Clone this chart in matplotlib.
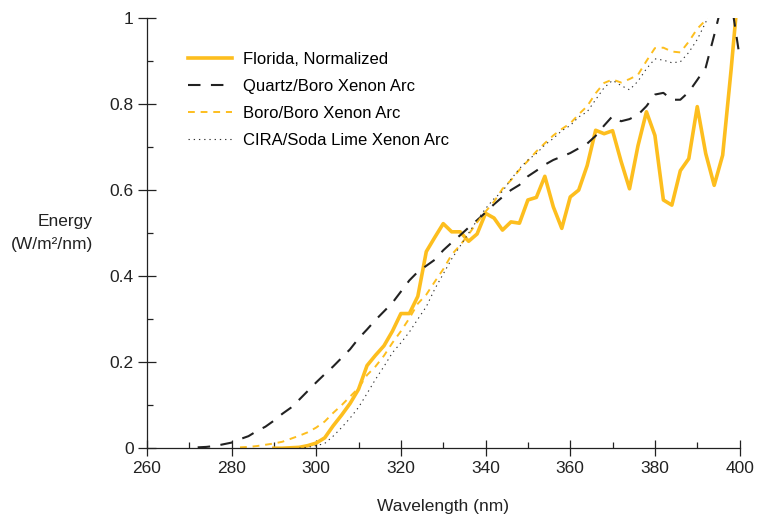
import matplotlib
matplotlib.use("Agg")
import matplotlib.pyplot as plt
from matplotlib.ticker import MultipleLocator, FuncFormatter

plt.rcParams["font.family"] = ["Liberation Sans", "DejaVu Sans"]

# Florida sunlight, normalized (2 nm steps)
florida_nm = list(range(290, 402, 2))
florida_val = [
    0.0, 0.0, 0.001, 0.002, 0.006, 0.012, 0.024, 0.052, 0.077, 0.104,
    0.137, 0.192, 0.216, 0.238, 0.272, 0.313, 0.313, 0.353, 0.457, 0.49,
    0.522, 0.503, 0.503, 0.481, 0.498, 0.546, 0.535, 0.507, 0.526, 0.523,
    0.577, 0.583, 0.632, 0.561, 0.511, 0.584, 0.600, 0.657, 0.739, 0.731,
    0.738, 0.667, 0.603, 0.703, 0.782, 0.727, 0.577, 0.565, 0.645, 0.673,
    0.794, 0.685, 0.611, 0.681, 0.88, 1.1,
]

quartz_nm = list(range(272, 402, 2))
quartz_val = [
    0.002, 0.003, 0.005, 0.009, 0.013, 0.021, 0.028, 0.04, 0.05, 0.064,
    0.08, 0.094, 0.113, 0.133, 0.153, 0.172, 0.19, 0.21, 0.23, 0.255,
    0.276, 0.298, 0.318, 0.338, 0.364, 0.39, 0.41, 0.424, 0.438, 0.46,
    0.478, 0.495, 0.513, 0.53, 0.548, 0.567, 0.584, 0.6, 0.612, 0.632,
    0.645, 0.659, 0.67, 0.678, 0.686, 0.697, 0.708, 0.726, 0.75, 0.772,
    0.76, 0.765, 0.775, 0.795, 0.822, 0.826, 0.81, 0.81, 0.828, 0.856,
    0.885, 0.96, 1.04, 1.04, 0.91,
]

boro_nm = list(range(282, 396, 2))
boro_val = [
    0.002, 0.003, 0.005, 0.008, 0.011, 0.015, 0.022, 0.029, 0.037, 0.048,
    0.062, 0.082, 0.1, 0.12, 0.14, 0.17, 0.19, 0.215, 0.245, 0.272,
    0.302, 0.336, 0.357, 0.387, 0.416, 0.45, 0.472, 0.497, 0.525, 0.55,
    0.573, 0.603, 0.623, 0.647, 0.668, 0.69, 0.709, 0.727, 0.742, 0.755,
    0.776, 0.795, 0.825, 0.849, 0.857, 0.85, 0.858, 0.868, 0.9, 0.93,
    0.931, 0.922, 0.92, 0.945, 0.975, 0.995, 1.05,
]

cira_nm = list(range(296, 396, 2))
cira_val = [
    0.0, 0.002, 0.006, 0.011, 0.028, 0.048, 0.07, 0.095, 0.127, 0.16,
    0.19, 0.222, 0.245, 0.27, 0.3, 0.329, 0.37, 0.405, 0.44, 0.47,
    0.5, 0.53, 0.557, 0.58, 0.597, 0.625, 0.65, 0.67, 0.685, 0.705,
    0.72, 0.738, 0.75, 0.77, 0.782, 0.81, 0.838, 0.855, 0.843, 0.833,
    0.853, 0.882, 0.905, 0.902, 0.896, 0.898, 0.92, 0.95, 0.99, 1.04,
]

labels = [
    "Florida, Normalized",
    "Quartz/Boro Xenon Arc",
    "Boro/Boro Xenon Arc",
    "CIRA/Soda Lime Xenon Arc",
]

gold = "#FDBE1E"
ink = "#222222"

fig = plt.figure(figsize=(7.57, 5.14), dpi=100)
ax = fig.add_axes([0.194, 0.128, 0.783, 0.837])

ax.plot(florida_nm, florida_val, color=gold, lw=2.6, label=labels[0])
ax.plot(quartz_nm, quartz_val, color=ink, lw=1.5, dashes=(6, 5), label=labels[1])
ax.plot(boro_nm, boro_val, color=gold, lw=1.4, dashes=(3.5, 3), label=labels[2])
ax.plot(cira_nm, cira_val, color="#333333", lw=0.8, dashes=(1.2, 3.5), label=labels[3])

ax.set_xlim(260, 400)
ax.set_ylim(0, 1)
ax.xaxis.set_major_locator(MultipleLocator(20))
ax.xaxis.set_minor_locator(MultipleLocator(10))
ax.yaxis.set_major_locator(MultipleLocator(0.2))
ax.yaxis.set_minor_locator(MultipleLocator(0.1))
ax.yaxis.set_major_formatter(FuncFormatter(lambda v, _: f"{v:g}"))

for side in ("top", "right"):
    ax.spines[side].set_visible(False)
for side in ("left", "bottom"):
    ax.spines[side].set_linewidth(0.9)
    ax.spines[side].set_color(ink)

ax.tick_params(axis="both", which="major", direction="inout", width=0.9,
               color=ink, labelsize=12.5, labelcolor=ink, pad=3)
ax.tick_params(axis="y", which="major", length=13)
ax.tick_params(axis="x", which="major", length=11, pad=4)
ax.tick_params(axis="y", which="minor", direction="in", length=4, width=0.9, color=ink)
ax.tick_params(axis="x", which="minor", direction="in", length=4.5, width=0.9, color=ink)

ax.set_xlabel("Wavelength (nm)", fontsize=12.5, color=ink, labelpad=16)
ax.text(-0.091, 0.5, "Energy\n(W/m²/nm)", transform=ax.transAxes,
        ha="right", va="center", multialignment="right", fontsize=12.5,
        color=ink, linespacing=1.65)

ax.legend(loc="upper left", bbox_to_anchor=(0.069, 0.922), frameon=False,
          fontsize=12, handlelength=2.64, handletextpad=0.66, labelspacing=0.73,
          borderpad=0, borderaxespad=0)

fig.savefig("out.png", dpi=100)
